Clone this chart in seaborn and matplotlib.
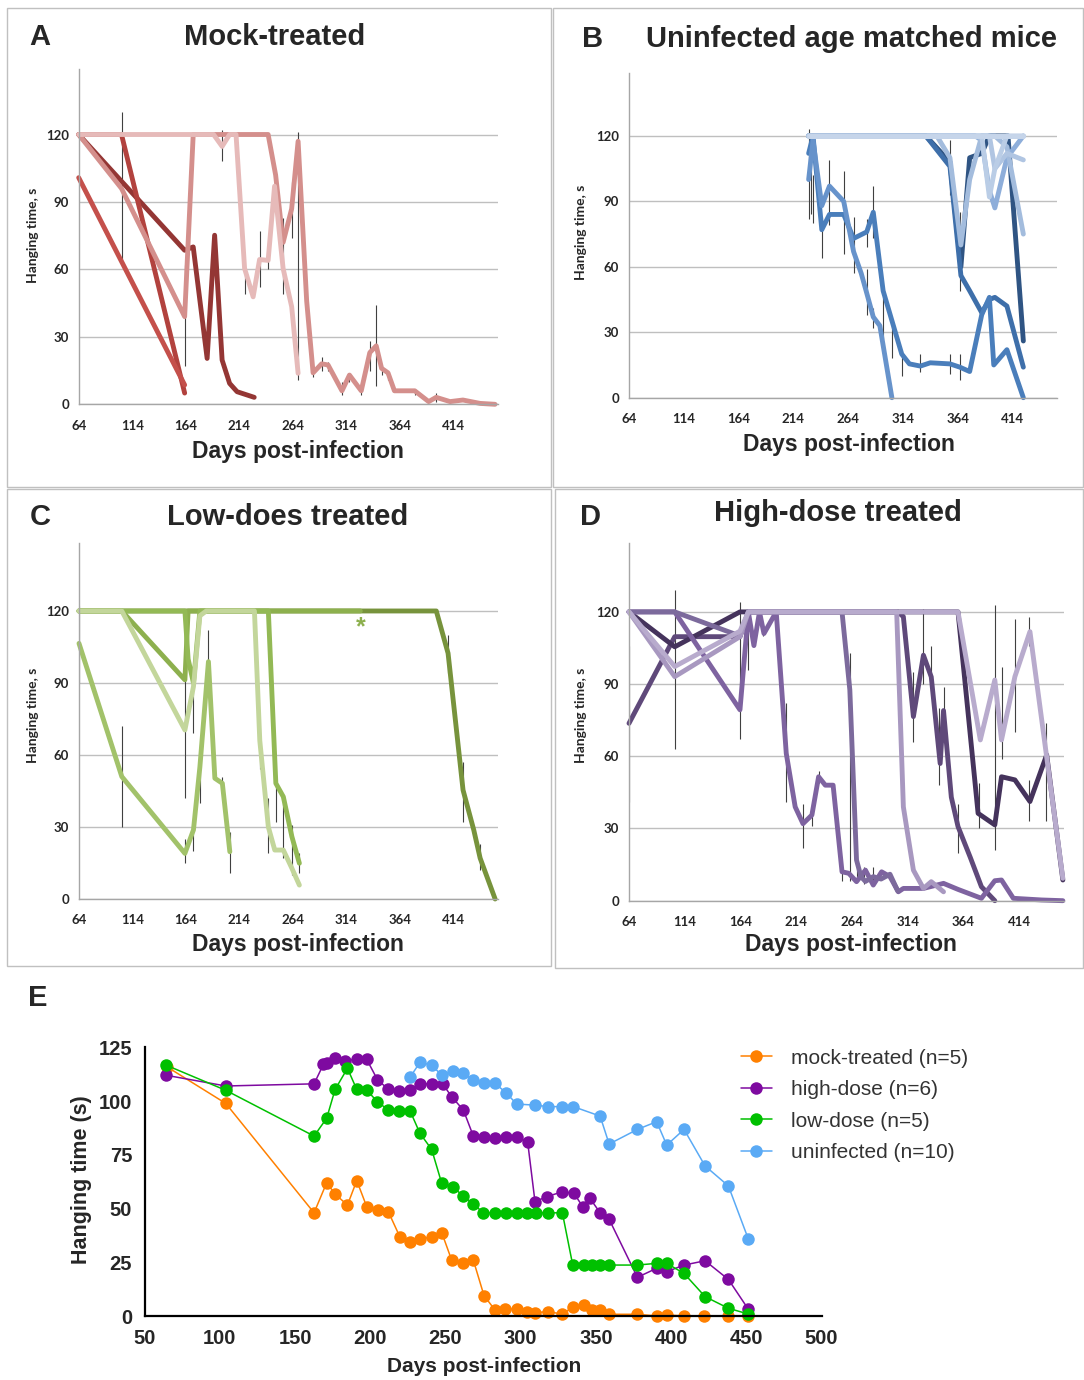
import matplotlib
matplotlib.use("Agg")
import matplotlib.pyplot as plt
import seaborn as sns
import pandas as pd

# ---- panel A: mock-treated, individual mice (day list, hanging time list)
mock_mice = {
    "m2": ([64, 163, 171, 184, 191, 198, 205, 212, 228],
           [120, 68.5, 70, 20.4, 75.2, 19.7, 9.3, 5.6, 3.1]),
    "m3": ([64, 104, 163], [120, 120, 5]),
    "m1": ([64, 163], [100.8, 8.6]),
    "m4": ([64, 104, 163, 171, 241, 248, 255, 263, 269, 277, 283, 291, 297, 310, 317,
            328, 336, 342, 347, 353, 359, 378, 391, 398, 411, 423, 439, 453],
           [120, 96, 39, 120, 120, 102, 72, 87, 117, 46, 14, 18, 17.5, 6, 13,
            6, 23, 26, 16, 14, 6, 6, 1.2, 3.1, 1.2, 1.9, 0.4, 0]),
    "m5": ([64, 190, 198, 205, 211, 219, 227, 233, 241, 247, 255, 263, 269],
           [120, 120, 114.7, 120, 120, 60.4, 47.8, 64.4, 64, 97, 60.4, 43.4, 13.8]),
}
mock_colors = {"m2": "#943634", "m3": "#B2423E", "m1": "#C4504B",
               "m4": "#D48F8C", "m5": "#E6BAB9"}
mock_err_day = [104, 163, 198, 219, 233, 241, 255, 263, 269, 283, 291, 297, 310, 317, 328, 336, 342, 347, 353, 378, 398]
mock_err_lo = [64, 17, 108, 49, 52, 60, 49, 74, 11, 12, 15, 15, 4, 10, 4, 15, 8, 13, 11, 4, 1]
mock_err_hi = [130, 62, 122, 58, 77, 70, 83, 99, 121, 17, 21, 19, 10, 14, 8, 28, 44, 17, 15, 7, 5]

# ---- panel B: uninfected age matched mice
unif_mice = {
    "u1": ([228, 335, 357, 367, 375, 386, 393, 410, 424],
           [120, 120, 108, 60, 110, 112, 120, 120, 26]),
    "u2": ([228, 335, 357, 367, 375, 386, 393, 398, 409, 424],
           [120, 120, 106, 56, 49, 39, 45, 46, 42, 14]),
    "u3": ([228, 232, 240, 247, 260, 269, 281, 287, 296, 313, 320, 330, 339, 357, 366,
            375, 386, 393, 397, 409, 424],
           [112, 120, 77, 84, 84, 73, 76, 85, 49, 20, 15.5, 14.5, 16, 15.5, 14,
            12, 38, 46, 15, 22, 0]),
    "u4": ([228, 232, 240, 247, 260, 269, 276, 281, 287, 293, 304],
           [100, 118, 88, 97, 90, 67, 57, 48, 37, 33, 0]),
    "u5": ([228, 380, 386, 393, 398, 409, 424], [120, 120, 118, 95, 87, 110, 120]),
    "u6": ([228, 345, 357, 367, 375, 386, 398, 409, 424],
           [120, 120, 110, 70, 100, 120, 120, 115, 75]),
    "u7": ([228, 393, 398, 409, 424], [120, 120, 105, 112, 109]),
    "u8": ([228, 375, 386, 393, 398, 409, 424], [120, 120, 120, 92, 105, 120, 120]),
    "u9": ([228, 424], [120, 120]),
    "u10": ([228, 424], [120, 120]),
}
unif_colors = {"u1": "#2F5483", "u2": "#3E6FAA", "u3": "#4A7EBB", "u4": "#6793CB",
               "u5": "#8EAEDA", "u6": "#A3BCDD", "u7": "#B0C5E2", "u8": "#BACDE6",
               "u9": "#C3D3E9", "u10": "#C6D5EA"}
unif_err_day = [228, 230, 232, 240, 247, 260, 269, 281, 281, 287, 287, 296, 304, 313, 330, 357, 357, 366, 366]
unif_err_lo = [82, 84, 80, 64, 79, 66, 57, 38, 69, 32, 73, 27, 18, 10, 12, 11, 93, 8, 49]
unif_err_hi = [123, 107, 102, 83, 109, 104, 83, 59, 82, 41, 97, 46, 36, 19, 20, 20, 118, 20, 85]

# ---- panel C: low-dose treated
low_mice = {
    "l5": ([64, 398, 409, 423, 433, 439, 453], [120, 120, 102.4, 45.4, 28.8, 17, 0]),
    "l3": ([64, 104, 163, 166, 327], [120, 120, 91.3, 120, 120]),
    "l4": ([64, 163, 166, 171, 177, 241, 248, 255, 263, 270],
           [120, 120, 100, 90, 120, 120, 48.2, 42.6, 26, 14.9]),
    "l1": ([64, 104, 163, 171, 177, 185, 191, 198, 205],
           [106.5, 51, 19, 28.8, 55, 98.9, 50.3, 48.2, 19.7]),
    "l2": ([64, 104, 163, 171, 177, 183, 228, 233, 241, 247, 255, 263, 270],
           [120, 120, 70.4, 88.5, 118, 120, 120, 66, 30, 20.4, 20.4, 12.8, 5.8]),
}
low_colors = {"l5": "#77933C", "l3": "#8DB04E", "l4": "#93B955", "l1": "#A2C26A", "l2": "#C3D69B"}
low_err_day = [64, 104, 163, 163, 171, 171, 177, 185, 198, 205, 233, 241, 248, 255, 263, 270, 409, 423, 439]
low_err_lo = [90, 30, 42, 15, 69, 20, 40, 85, 44, 11, 54, 19, 32, 17, 10, 11, 94, 32, 12]
low_err_hi = [122, 72, 108, 25, 90, 27, 64, 112, 51, 28, 66, 42, 49, 43, 31, 19, 110, 57, 23]

# ---- panel D: high-dose treated
high_mice = {
    "h1": ([64, 105, 163.5, 171, 305, 310, 319, 328, 335, 343, 346, 353, 359, 370, 380, 392],
           [73.7, 109.7, 109.7, 120, 120, 118, 76.5, 102, 93, 57, 79, 43, 30.8, 18, 5.8, 0]),
    "h2": ([64, 105, 163.5, 171, 359, 377, 392, 398, 410, 423.5, 438.5, 453],
           [120, 105.5, 120, 120, 120, 36.3, 31.5, 51.5, 50.2, 41.2, 60.6, 8.6]),
    "h3": ([64, 105, 163.5, 171, 176, 181, 185, 196, 205, 213, 220, 228, 234, 240, 247,
            255, 261, 268, 276, 283, 290.5, 298, 305.5, 310, 328, 346, 359, 380, 392, 398,
            408.6, 434, 453],
           [120, 120, 79.3, 120, 106, 120, 111, 120, 61.2, 39, 32, 35.6, 51.5, 48, 48,
            12, 11.4, 7.9, 12.7, 6.5, 12, 10, 3.7, 5.1, 5.1, 7.2, 4.7, 1, 8.3, 8.6,
            1, 0.3, 0]),
    "h4": ([64, 105, 163.5, 171, 255, 262, 268, 272, 276, 283, 290, 298, 305],
           [120, 120, 110, 120, 120, 87.6, 16.9, 10, 8, 10, 9, 11, 4]),
    "h5": ([64, 105, 163.5, 171, 304, 310, 319, 328, 335, 346],
           [120, 93.1, 109.7, 120, 120, 39, 12.7, 5.1, 7.9, 3.7]),
    "h6": ([64, 105, 163.5, 171, 359, 379, 392, 398, 410, 423.5, 453],
           [120, 97.3, 112, 120, 120, 66.8, 91.7, 66.8, 93.1, 111.8, 9.3]),
}
high_colors = {"h1": "#5F497A", "h2": "#45335C", "h3": "#7E63A0", "h4": "#7C6A9C",
               "h5": "#A898C0", "h6": "#B8ABCD"}
high_err_day = [64, 105, 163.5, 171, 184.5, 205, 220, 228, 234, 255, 262, 268, 275, 283, 319, 328, 335, 342, 346, 359, 378, 392, 398, 410, 423, 423, 438]
high_err_lo = [41, 63, 67, 96, 110, 41, 22, 31, 49, 8, 8, 8, 7, 6, 66, 90, 87, 48, 68, 20, 30, 21, 59, 70, 33, 106, 33]
high_err_hi = [106, 129, 124, 112, 115, 82, 40, 40, 54, 14, 103, 18, 14, 14, 95, 121, 106, 80, 89, 40, 49, 123, 97, 117, 50, 118, 74]

# ---- panel E: group means
e_mock_day = [64.6, 103.9, 162.6, 171, 176.6, 184.8, 191, 197.6, 205.4, 212, 219.8, 226.4, 233, 240.8,
              247.5, 254.1, 261.9, 268.5, 275.6, 282.9, 289.6, 297.3, 304, 309.5, 318.4, 327.7,
              335, 342.3, 347.2, 352.8, 358.8, 377.6, 390.4, 397.1, 408.6, 421.9, 438, 451.4]
e_mock_val = [116, 98.9, 48, 62, 56.7, 51.6, 63, 50.9, 49.3, 48.5, 36.6, 34.6, 36, 36.6,
              38.8, 26, 24.8, 26, 9.5, 2.8, 3.1, 3.4, 2, 1.6, 2, 0.9,
              4.3, 5.1, 2.8, 2.8, 0.8, 0.8, 0, 0.5, 0, 0, 0, 0]
e_high_day = [64.2, 103.9, 162.6, 168.8, 171, 176.6, 183.2, 191, 197.6, 204.7, 212, 219.3, 226.4,
              233, 240.8, 248.1, 254.1, 261.9, 268.5, 275.6, 282.9, 290.2, 297.3, 304.6, 309.5,
              317.3, 327.7, 335.5, 341.2, 346.1, 352.8, 358.8, 377.6, 390.4, 397.1, 408.6, 422.6,
              438.1, 451.4]
e_high_val = [112, 107, 108, 117, 117.5, 119.8, 118.8, 119.4, 119.4, 110, 105.4, 104.7, 105.1,
              108, 108, 108, 102, 95.8, 83.7, 83.4, 82.6, 83.4, 83.1, 81.1, 53.2,
              55.5, 57.8, 57, 50.9, 54.7, 48, 45, 18, 22.2, 20.6, 23.7, 25.7,
              17, 3.1]
e_low_day = [64.2, 103.9, 162.6, 171, 176.6, 184.8, 191, 197.6, 204.7, 212, 219.3, 226.4, 233,
             240.8, 247.5, 255.2, 261.9, 268.5, 275.2, 282.9, 290.2, 297.3, 304, 310.1, 318.4,
             327.7, 334.6, 342.3, 347.2, 352.8, 358.8, 377.6, 390.4, 397.1, 408.6, 422.6, 438.1,
             451.4]
e_low_val = [116.7, 105, 83.7, 92, 105.4, 115.2, 105.4, 105.1, 99.7, 95.8, 95.5, 95.5, 85,
             77.5, 61.7, 59.8, 55.8, 52.1, 48, 48, 48, 48, 48, 48, 48,
             48, 23.7, 23.7, 23.7, 23.7, 23.7, 23.7, 24.5, 24.5, 19.8, 9, 3.6,
             0.9]
e_unif_day = [226.4, 233, 240.8, 247.5, 255.2, 261.9, 268.5, 275.6, 282.9, 290.2, 297.3, 309.5,
              318.4, 327.7, 335, 352.8, 358.8, 377.6, 390.4, 397.1, 408.6, 422.6, 438.1, 451.4]
e_unif_val = [111, 118, 116.7, 112, 114, 112.9, 109.8, 108.5, 108.2, 103.9, 98.6, 98.1,
              97.4, 97.4, 97.4, 93, 80, 86.8, 90.4, 79.5, 86.8, 69.8, 60.5, 35.7]
e_groups = ["mock-treated (n=5)", "high-dose (n=6)", "low-dose (n=5)", "uninfected (n=10)"]
e_colors = ["#FF8000", "#7E0AA0", "#00C000", "#5AAAF5"]

W, H = 1084, 1380
sns.set_style("white")
plt.rcParams["font.family"] = ["Liberation Sans", "DejaVu Sans"]

fig = plt.figure(figsize=(W / 100, H / 100), dpi=100)


def px_axes(x0, y0, x1, y1):
    return fig.add_axes([x0 / W, 1 - y1 / H, (x1 - x0) / W, (y1 - y0) / H])


def ftext(x, y, s, **kw):
    fig.text(x / W, 1 - y / H, s, **kw)


def box(x0, y0, x1, y1):
    fig.add_artist(plt.Rectangle((x0 / W, 1 - y1 / H), (x1 - x0) / W, (y1 - y0) / H,
                                 transform=fig.transFigure, fill=False,
                                 ec="#C0C0C0", lw=1))


def long_df(mice):
    rows = []
    for name, (d, v) in mice.items():
        for x, y in zip(d, v):
            rows.append((name, x, y))
    return pd.DataFrame(rows, columns=["mouse", "day", "val"])


def mouse_panel(ax, mice, colors, ed, elo, ehi, xmax, ymax):
    ax.vlines(ed, elo, ehi, color="#404040", lw=0.8, zorder=1)
    sns.lineplot(data=long_df(mice), x="day", y="val", hue="mouse",
                 hue_order=list(mice), palette=colors, estimator=None, sort=False,
                 legend=False, lw=3.5, ax=ax, clip_on=False,
                 solid_capstyle="round", solid_joinstyle="round")
    ax.set_xlim(64, xmax)
    ax.set_ylim(0, ymax)
    ax.set_xticks(range(64, 415, 50))
    ax.set_yticks([0, 30, 60, 90, 120])
    ax.yaxis.grid(True, color="#BFBFBF", lw=1)
    ax.set_axisbelow(True)
    for s in ("top", "right"):
        ax.spines[s].set_visible(False)
    for s in ("left", "bottom"):
        ax.spines[s].set_color("#A6A6A6")
        ax.spines[s].set_linewidth(1)
    ax.tick_params(axis="both", length=4, width=1, color="#A6A6A6", pad=3,
                   labelsize=9.5, direction="out")
    ax.tick_params(axis="x", pad=7)
    for lab in ax.get_xticklabels() + ax.get_yticklabels():
        lab.set_fontweight("bold")
        lab.set_family(["Lato", "DejaVu Sans"])
    ax.set_xlabel("")
    ax.set_ylabel("")


title_kw = dict(fontsize=21, fontweight="bold", ha="center", va="center")
xl_kw = dict(fontsize=16.5, fontweight="bold", ha="center", va="center")
yl_kw = dict(fontsize=10, fontweight="bold", ha="center", va="center", rotation=90,
             family=["Lato", "DejaVu Sans"])

# panel borders
box(7, 8, 551, 487)
box(553, 8, 1083, 487)
box(7, 489, 551, 966)
box(555, 489, 1083, 968)

axA = px_axes(78.7, 69.3, 497.7, 404.3)
mouse_panel(axA, mock_mice, mock_colors, mock_err_day, mock_err_lo, mock_err_hi, 455.5, 149)
ftext(40, 37, "A", **title_kw)
ftext(275, 37, "Mock-treated", **title_kw)
ftext(298, 451, "Days post-infection", **xl_kw)
ftext(33, 235, "Hanging time, s", **yl_kw)

axB = px_axes(629, 73.3, 1057.3, 397.7)
mouse_panel(axB, unif_mice, unif_colors, unif_err_day, unif_err_lo, unif_err_hi, 455, 148.7)
ftext(593, 39, "B", **title_kw)
ftext(852, 39, "Uninfected age matched mice", **title_kw)
ftext(849, 445, "Days post-infection", **xl_kw)
ftext(581, 232, "Hanging time, s", **yl_kw)

axC = px_axes(79, 543.3, 497.7, 899)
mouse_panel(axC, low_mice, low_colors, low_err_day, low_err_lo, low_err_hi, 455.4, 148.2)
axC.text(327, 113, "*", color="#8DB04E", fontsize=18, fontweight="bold",
         ha="center", va="center")
ftext(40, 517, "C", **title_kw)
ftext(288, 517, "Low-does treated", **title_kw)
ftext(298, 944, "Days post-infection", **xl_kw)
ftext(33, 715, "Hanging time, s", **yl_kw)

axD = px_axes(629, 543.3, 1064.3, 900.7)
mouse_panel(axD, high_mice, high_colors, high_err_day, high_err_lo, high_err_hi, 454.3, 148.5)
ftext(591, 517, "D", **title_kw)
ftext(838, 513, "High-dose treated", **title_kw)
ftext(851, 944, "Days post-infection", **xl_kw)
ftext(581, 715, "Hanging time, s", **yl_kw)

# ---- panel E
rows = []
for g, d, v in zip(e_groups, [e_mock_day, e_high_day, e_low_day, e_unif_day],
                   [e_mock_val, e_high_val, e_low_val, e_unif_val]):
    rows += [(g, x, y) for x, y in zip(d, v)]
dfE = pd.DataFrame(rows, columns=["group", "day", "val"])

axE = px_axes(144.7, 1047.3, 821.5, 1316)
sns.lineplot(data=dfE, x="day", y="val", hue="group", hue_order=e_groups,
             palette=e_colors, style="group", markers=["o", "o", "o", "o"], dashes=False,
             estimator=None, sort=False, lw=1.1, markersize=9, markeredgewidth=0,
             ax=axE, clip_on=False)
axE.set_xlim(50, 500)
axE.set_ylim(0, 125)
axE.set_xticks(range(50, 501, 50))
axE.set_yticks(range(0, 126, 25))
for s in ("top", "right"):
    axE.spines[s].set_visible(False)
for s in ("left", "bottom"):
    axE.spines[s].set_color("black")
    axE.spines[s].set_linewidth(1.6)
axE.tick_params(axis="both", length=6, width=1.6, color="black", direction="out",
                labelsize=14.5, pad=3)
for lab in axE.get_xticklabels() + axE.get_yticklabels():
    lab.set_fontweight("bold")
axE.set_xlabel("")
axE.set_ylabel("")
handles, labels = axE.get_legend_handles_labels()
axE.legend(handles, labels, loc="upper left", bbox_to_anchor=(722 / W, 1 - 1030 / H),
           bbox_transform=fig.transFigure, frameon=False, fontsize=15,
           handlelength=1.5, handletextpad=0.9, labelspacing=0.6, labelcolor="#333333")
ftext(38, 998, "E", **title_kw)
ftext(484, 1366, "Days post-infection", fontsize=15, fontweight="bold", ha="center", va="center")
ftext(82, 1180, "Hanging time (s)", fontsize=15.5, fontweight="bold", ha="center",
      va="center", rotation=90)

fig.savefig("out.png", dpi=100, facecolor="white")
